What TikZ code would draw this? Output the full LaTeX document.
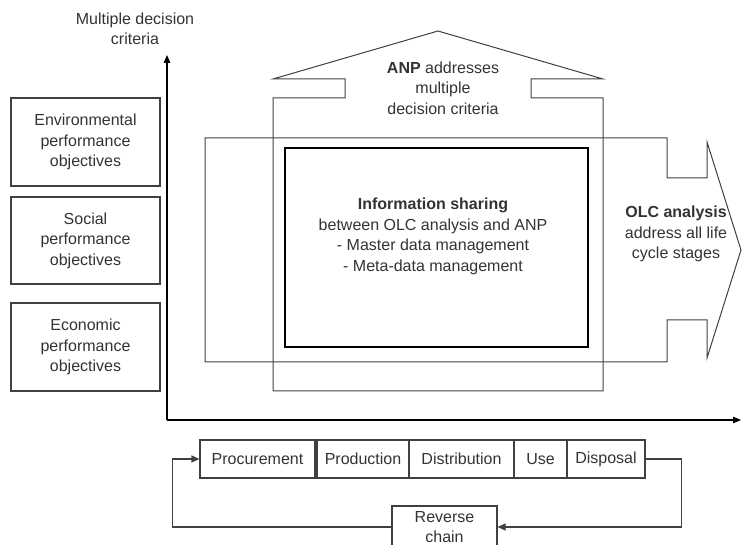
\documentclass[tikz,border=0pt]{standalone}
\usepackage{fontspec}
\setmainfont{Liberation Sans}
\usetikzlibrary{arrows.meta}
\definecolor{txt}{HTML}{333333}
\definecolor{ln}{HTML}{404040}
\begin{document}
\begin{tikzpicture}[x=1pt,y=-1pt,
  every node/.style={font=\fontsize{16}{20.5}\selectfont, text=txt, align=center},
  objbox/.style={draw=ln, line width=1.3pt, minimum width=149, minimum height=88, inner sep=0},
  stagebox/.style={draw=ln, line width=1.1pt, minimum height=38, inner sep=0},
  outline/.style={draw=ln, line width=1pt},
  axis/.style={draw=black, line width=1.2pt, -{Triangle[length=8pt,width=6.5pt]}},
  flow/.style={draw=ln, line width=1.1pt, -{Triangle[length=8pt,width=7pt]}}
]
\useasboundingbox (0,0) rectangle (742,545);

% axis
\node (crit) at (135,29) {Multiple decision\\criteria};
\coordinate (origin) at (167,420);
\coordinate (ytip) at (167,55);
\coordinate (xtip) at (741,420);
\draw[axis] (origin) -- (ytip);
\draw[axis] (origin) -- (xtip);

% objective boxes
\node[objbox] (env) at (85.5,142) {Environmental\\performance\\objectives};
\node[objbox, minimum height=87] (soc) at (85.5,240.5) {Social\\performance\\objectives};
\node[objbox] (eco) at (85.5,347) {Economic\\performance\\objectives};

% ANP house
\draw[outline] (273,391) -- (273,98) -- (345,98) -- (345,79) -- (273,79) -- (438,31)
  -- (603,79) -- (531,79) -- (531,98) -- (603,98) -- (603,391) -- cycle;

% OLC arrow
\draw[outline] (205,138) -- (667,138) -- (667,178) -- (707,178) -- (707,142) -- (741,250)
  -- (707,358) -- (707,320) -- (667,320) -- (667,362) -- (205,362) -- cycle;

% information sharing
\node[draw=black, line width=2pt, minimum width=303, minimum height=199, inner sep=0] (info) at (436.5,247.5) {};
\node (infotxt) at (433,236.5) {\textbf{Information sharing}\\between OLC analysis and ANP\\- Master data management\\- Meta-data management};

\node (anp) at (443,88) {\textbf{ANP} addresses\\multiple\\decision criteria};
\node (olc) at (676,234) {\textbf{OLC analysis}\\address all life\\cycle stages};

% life cycle stages
\node[stagebox, minimum width=115] (proc) at (257.5,459) {Procurement};
\node[stagebox, minimum width=92] (prod) at (363,459) {Production};
\node[stagebox, minimum width=105] (dist) at (461.5,459) {Distribution};
\node[stagebox, minimum width=53] (use) at (540.5,459) {Use};
\node[stagebox, minimum width=78] (disp) at (606,459) {Disposal};
\node[stagebox, minimum width=105, minimum height=42] (rev) at (444.5,527) {Reverse\\chain};

\draw[flow] (disp.east) -- ++(36,0) |- (rev.east);
\draw[flow] (rev.west) -- ++(-219,0) |- (proc.west);
\end{tikzpicture}
\end{document}
